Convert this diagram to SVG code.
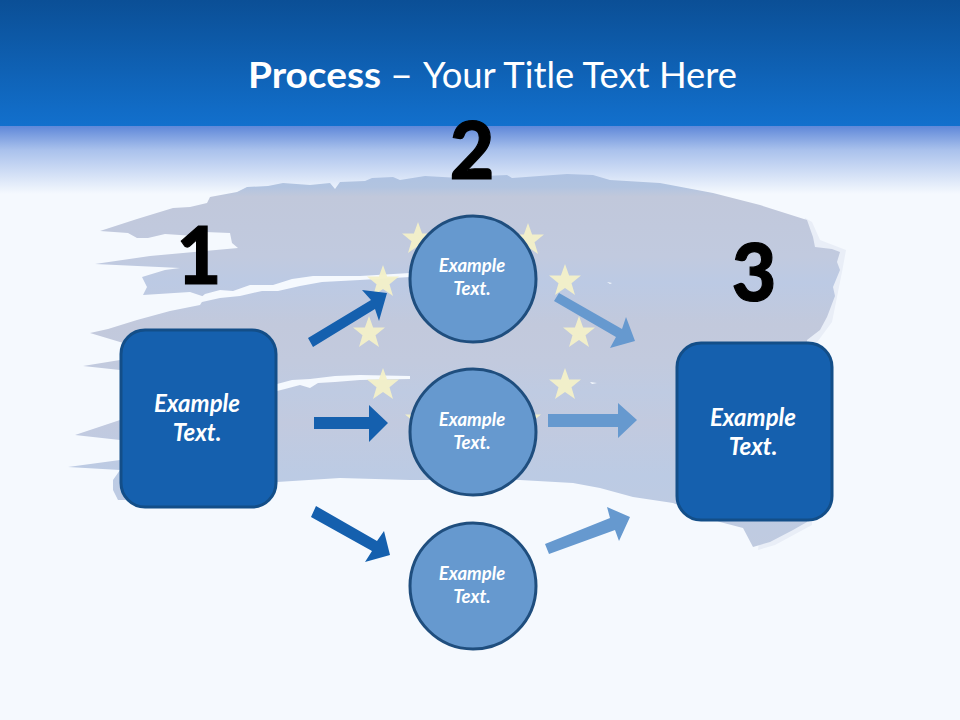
<svg xmlns="http://www.w3.org/2000/svg" width="960" height="720" viewBox="0 0 960 720">
<style>
.t{font-family:Lato,"Liberation Sans",sans-serif;fill:#fff;text-anchor:middle}
.bx{font-size:24px;font-weight:700;font-style:italic}
.cx{font-size:18.5px;font-weight:700;font-style:italic}
.h{font-family:Lato,"Liberation Sans",sans-serif;fill:#fff;font-size:36px}
.n{font-family:Lato,"Liberation Sans",sans-serif;font-size:80px;font-weight:900;fill:#000;stroke:#000;stroke-width:1.2;text-anchor:middle}
.box{fill:#1560ae;stroke:#134e88;stroke-width:3}
.cir{fill:#6699cf;stroke:#1f4e7e;stroke-width:3}
.dk{fill:#1560ae}
.lt{fill:#6699cf}
.gap{fill:#f5f9fe}
</style>
<defs>
<linearGradient id="hd" x1="0" y1="0" x2="0" y2="1"><stop offset="0" stop-color="#0b4f96"/><stop offset="1" stop-color="#1270cd"/></linearGradient>
<linearGradient id="fd" x1="0" y1="0" x2="0" y2="1"><stop offset="0" stop-color="#5f88d9"/><stop offset=".35" stop-color="#a9c1ec"/><stop offset="1" stop-color="#f5f9fe"/></linearGradient>
<linearGradient id="br" gradientUnits="userSpaceOnUse" x1="0" y1="174" x2="0" y2="550">
<stop offset="0" stop-color="#aec2e2"/><stop offset=".035" stop-color="#b2c4e0"/><stop offset=".06" stop-color="#c1c8db"/><stop offset=".22" stop-color="#c1cadf"/><stop offset=".29" stop-color="#bccae4"/><stop offset=".4" stop-color="#c2c9dc"/><stop offset=".5" stop-color="#c2cade"/><stop offset=".58" stop-color="#bfcbe2"/><stop offset=".66" stop-color="#c2cadf"/><stop offset=".8" stop-color="#bccbe4"/><stop offset="1" stop-color="#c0cbe0"/></linearGradient>
<polygon id="s" points="0,-17 4.1,-5.5 16,-5.5 6.5,2.2 10,14 0,7 -10,14 -6.5,2.2 -16,-5.5 -4.1,-5.5"/>
</defs>
<rect width="960" height="720" fill="#f5f9fe"/>
<rect y="126" width="960" height="68" fill="url(#fd)"/>
<g id="brush">
<path fill="#e9eef7" d="M805,218L812,222L820,240L846,250L842,272L838,292L832,322L815,345L812,525L775,545L758,550L790,300Z"/>
<path fill="url(#br)" d="M100,231L137,219L173,208L190,207L207,203L210,197L237,192L247,187L268,186L283,183L310,185L330,183L335,189L340,182L365,181L372,178L393,177L400,180L425,176L460,178L484,176L507,175L512,178L567,174L593,175L610,180L660,183L713,193L760,205L807,220L813,237L815,247L832,249L840,252L837,262L840,270L833,287L835,296L827,317L820,330L807,340L807,522L793,530L770,542L753,547L743,528L720,522L673,503L633,497L600,488L573,483L520,480L410,480L340,478L277,482L190,490L135,500L118,500L113,490L113,480L120,470L68,467L120,460L120,440L75,435L120,420L120,370L83,366L120,360L130,345L90,333L108,329L137,320L170,311L200,305L205,297L190,292L143,295L147,287L142,277L165,270L180,268L95,264L150,256L238,248L232,243L230,233L205,232L195,236L165,234L148,238L137,238L128,233Z"/>
<path class="gap" d="M193,304L205,294L220,290L233,291L250,285L273,285L292,279L313,276L360,276L410,273L410,277L360,280L322,282L300,286L278,291L262,291L240,296L220,298Z"/>
<path class="gap" d="M277,384L292,380L310,379L335,376L360,375L410,376L410,379L360,380L335,382L318,383L310,388L300,385L285,389L277,391Z"/>
<path class="gap" d="M607,282L612,283L610,284Z"/>
<path class="gap" d="M590,382L597,383L592,384Z"/>
</g>
<g id="stars" fill="#f3f0c8" fill-opacity=".95">
<use href="#s" x="418" y="239"/><use href="#s" x="528" y="240"/><use href="#s" x="383" y="282"/><use href="#s" x="565" y="281"/><use href="#s" x="369" y="333"/><use href="#s" x="579" y="333"/><use href="#s" x="383" y="385"/><use href="#s" x="565" y="385"/><use href="#s" x="421" y="420"/><use href="#s" x="525" y="420"/>
</g>
<rect width="960" height="126" fill="url(#hd)"/>
<text class="h" y="88"><tspan x="248" font-weight="700" textLength="133" lengthAdjust="spacingAndGlyphs">Process</tspan><tspan x="390" textLength="23" lengthAdjust="spacingAndGlyphs">–</tspan><tspan x="423" textLength="314" lengthAdjust="spacingAndGlyphs">Your Title Text Here</tspan></text>
<g id="connectors">
<polygon class="dk" points="308,338 371,300 362,290 387,293 379,321 375,309 313,347"/>
<polygon class="dk" points="314,417 369,417 369,405 388,423 369,442 369,429 314,429"/>
<polygon class="dk" points="316,506 377,541 384,531 390,555 365,562 372,551 311,517"/>
<polygon class="lt" points="559,293 622,329 626,317 635,341 610,348 616,337 554,301"/>
<polygon class="lt" points="548,414 618,414 618,403 637,420 618,438 618,427 548,427"/>
<polygon class="lt" points="545,544 610,518 607,507 630,517 619,541 615,530 549,554"/>
</g>
<g id="n1"><rect class="box" x="121" y="330" width="155" height="177" rx="24"/><text class="t bx" x="197" y="412">Example</text><text class="t bx" x="197" y="441">Text.</text></g>
<g id="n2"><circle class="cir" cx="473" cy="279" r="63"/><text class="t cx" x="472" y="272">Example</text><text class="t cx" x="472" y="295">Text.</text></g>
<g id="n3"><circle class="cir" cx="473" cy="432" r="63"/><text class="t cx" x="472" y="426">Example</text><text class="t cx" x="472" y="449">Text.</text></g>
<g id="n4"><circle class="cir" cx="473" cy="586" r="63"/><text class="t cx" x="472" y="580">Example</text><text class="t cx" x="472" y="603">Text.</text></g>
<g id="n5"><rect class="box" x="677" y="343" width="155" height="177" rx="24"/><text class="t bx" x="753" y="426">Example</text><text class="t bx" x="753" y="455">Text.</text></g>
<text class="n" transform="translate(199,284) scale(.96,1)">1</text>
<text class="n" transform="translate(472,179) scale(.96,1)">2</text>
<text class="n" transform="translate(754,301) scale(.96,1)">3</text>
</svg>
